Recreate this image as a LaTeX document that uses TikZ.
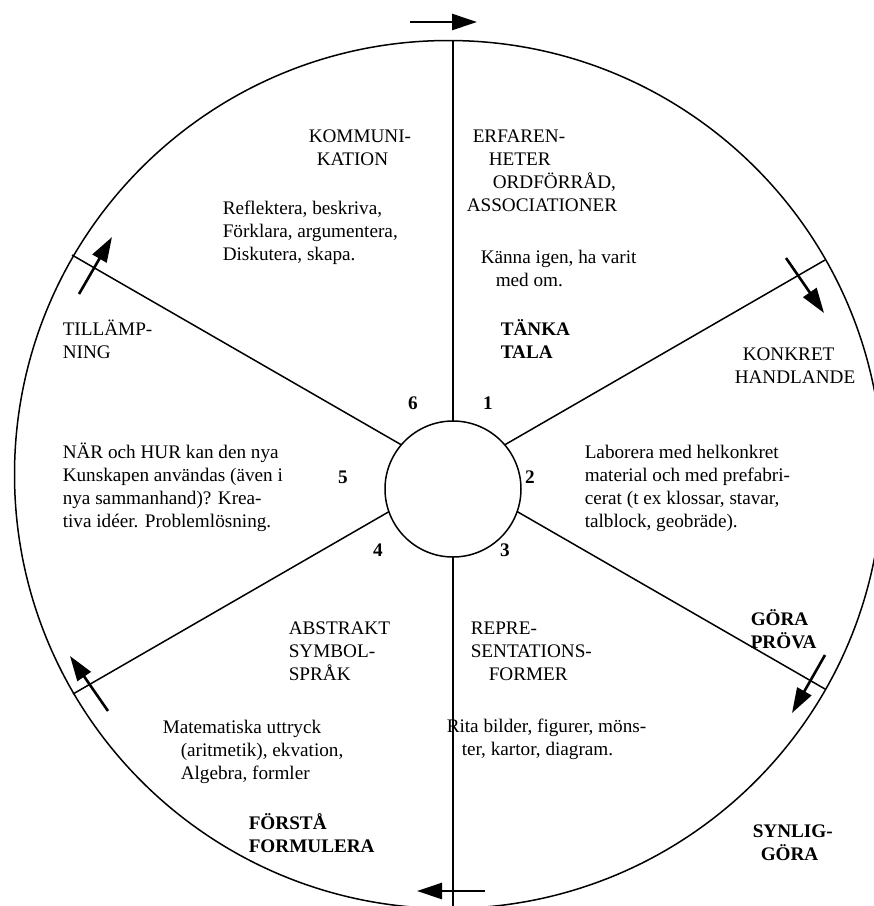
\documentclass[tikz,border=0pt]{standalone}
\usepackage{fontspec}
\setmainfont{Liberation Serif}
\usetikzlibrary{arrows.meta}
\tikzset{
  lbl/.style={anchor=base west, align=left, inner sep=0pt, font=\fontsize{19.2}{23}\selectfont},
  lblb/.style={lbl, font=\fontsize{19.2}{23}\selectfont\bfseries},
  nr/.style={lblb, anchor=center},
  turn/.style={line width=2.6pt, -{Triangle[length=25pt,width=16pt]}}
}
\begin{document}
\begin{tikzpicture}[x=1pt,y=-1pt,line width=1.5pt]
\clip (0,0) rectangle (874,906);
% spokes and rings
\draw (453,40) -- (453,910);
\draw (72,255) -- (825,689);
\draw (73,694) -- (825,260);
\draw (448.5,474.5) circle[radius=434];
\draw[fill=white] (453,489) circle[radius=68];
% direction arrows
\draw[turn] (410,22) -- (477,22);
\draw[turn] (786,258) -- (824,313);
\draw[turn] (825,655) -- (792,713);
\draw[turn] (485,891) -- (417,891);
\draw[turn] (108,711) -- (70,656);
\draw[turn] (79,294) -- (112,237);
% sector 1 (base = last line)
\node[lbl] (erfaren) at (466,211) {\hspace*{6pt}ERFAREN-\\\hspace*{22pt}HETER\\\hspace*{26pt}ORDFÖRRÅD,\\ASSOCIATIONER};
\node[lbl] (kanna) at (480,286) {Känna igen, ha varit\\\hspace*{15pt}med om.};
\node[lblb] (tanka) at (500,358) {TÄNKA\\TALA};
% sector 6
\node[lbl] (kommun) at (308,165) {KOMMUNI-\\\hspace*{8pt}KATION};
\node[lbl] (reflekt) at (222,260) {Reflektera, beskriva,\\Förklara, argumentera,\\Diskutera, skapa.};
% sector 5
\node[lbl] (tillamp) at (62,358) {TILLÄMP-\\NING};
\node[lbl] (nar) at (62,527) {NÄR och HUR kan den nya\\Kunskapen användas (även i\\nya sammanhand)? Krea-\\tiva idéer. Problemlösning.};
% sector 2
\node[lbl] (konkret) at (734,383) {\hspace*{8pt}KONKRET\\HANDLANDE};
\node[lbl] (laborera) at (584,527) {Laborera med helkonkret\\material och med prefabri-\\cerat (t ex klossar, stavar,\\talblock, geobräde).};
\node[lblb] (gora) at (750,648) {GÖRA\\PRÖVA};
% sector 3
\node[lbl] (repre) at (470,680) {REPRE-\\SENTATIONS-\\\hspace*{18pt}FORMER};
\node[lbl] (rita) at (446,755) {Rita bilder, figurer, möns-\\\hspace*{15pt}ter, kartor, diagram.};
\node[lblb] (synlig) at (752,860) {SYNLIG-\\\hspace*{8pt}GÖRA};
% sector 4
\node[lbl] (abstrakt) at (288,680) {ABSTRAKT\\SYMBOL-\\SPRÅK};
\node[lbl] (matem) at (162,779) {Matematiska uttryck\\\hspace*{18pt}(aritmetik), ekvation,\\\hspace*{18pt}Algebra, formler};
\node[lblb] (forsta) at (248,852) {FÖRSTÅ\\FORMULERA};
% step numbers
\node[nr] (n1) at (488,403) {1};
\node[nr] (n2) at (530,477) {2};
\node[nr] (n3) at (505,550) {3};
\node[nr] (n4) at (378,550) {4};
\node[nr] (n5) at (343,477) {5};
\node[nr] (n6) at (413,403) {6};
\end{tikzpicture}
\end{document}
